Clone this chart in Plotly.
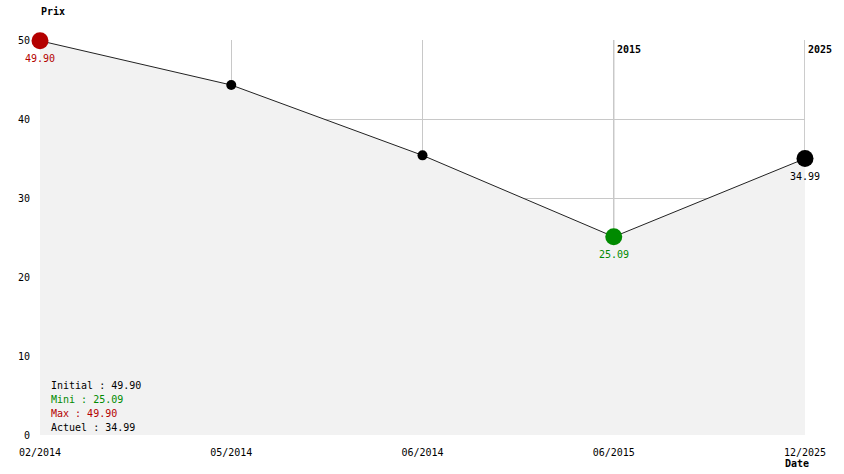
import plotly.graph_objects as go

dates = ["02/2014", "05/2014", "06/2014", "06/2015", "12/2025"]
prices = [49.90, 44.3, 35.4, 25.09, 34.99]
marker_sizes = [17, 10, 10, 17, 17]
marker_colors = ["#b40000", "#000000", "#000000", "#008a00", "#000000"]
year_marks = [("2015", 3), ("2025", 4)]
y_ticks = [0, 10, 20, 30, 40, 50]
summary = [("Initial : 49.90", "#000000"), ("Mini : 25.09", "#008a00"),
           ("Max : 49.90", "#b40000"), ("Actuel : 34.99", "#000000")]
point_labels = [(0, "49.90", "#b40000"), (3, "25.09", "#008a00"), (4, "34.99", "#000000")]

FONT = "DejaVu Sans Mono"
FS = 10
xs = list(range(len(dates)))

fig = go.Figure()
fig.add_trace(go.Scatter(
    x=xs, y=prices, mode="lines+markers",
    line=dict(color="#222222", width=1),
    fill="tozeroy", fillcolor="#f2f2f2",
    marker=dict(size=marker_sizes, color=marker_colors, opacity=1, line=dict(width=0)),
    cliponaxis=False,
    hoverinfo="skip", showlegend=False,
))

annotations = []
for i, txt, col in point_labels:
    annotations.append(dict(x=xs[i], y=prices[i], text=txt, showarrow=False,
                            yshift=-18, font=dict(family=FONT, size=FS, color=col)))

shapes = []
for lbl, i in year_marks:
    shapes.append(dict(type="line", x0=i, x1=i, y0=0, y1=50, xref="x", yref="y",
                       line=dict(color="#999999", width=1), layer="below"))
    annotations.append(dict(x=i, y=50, text="<b>" + lbl + "</b>", showarrow=False,
                            xanchor="left", yanchor="top", xshift=1, yshift=-2,
                            font=dict(family=FONT, size=FS, color="#000000")))

for k, (txt, col) in enumerate(summary):
    annotations.append(dict(x=0, y=0, xref="x", yref="y", text=txt, showarrow=False,
                            xanchor="left", yanchor="bottom", xshift=9,
                            yshift=0 + (3 - k) * 14,
                            font=dict(family=FONT, size=FS, color=col)))

annotations.append(dict(x=0, y=1, xref="paper", yref="paper", text="<b>Prix</b>",
                        showarrow=False, xanchor="center", yanchor="bottom", yshift=21, xshift=13,
                        font=dict(family=FONT, size=FS, color="#000000")))
annotations.append(dict(x=1, y=0, xref="paper", yref="paper", text="<b>Date</b>",
                        showarrow=False, xanchor="center", yanchor="top", yshift=-21, xshift=-8,
                        font=dict(family=FONT, size=FS, color="#000000")))

fig.update_layout(
    width=844, height=474,
    margin=dict(l=40, r=39, t=40, b=39),
    paper_bgcolor="white", plot_bgcolor="white",
    font=dict(family=FONT, size=FS, color="#000000"),
    xaxis=dict(range=[0, 4], tickvals=xs, ticktext=dates, showgrid=True,
               gridcolor="#c8c8c8", gridwidth=1, zeroline=False, showline=False,
               ticks="", ticklabelstandoff=10, tickfont=dict(family=FONT, size=FS)),
    yaxis=dict(range=[0, 50], tickvals=y_ticks, showgrid=True, gridcolor="#c8c8c8",
               gridwidth=1, zeroline=False, showline=False, ticks="",
               ticklabelstandoff=9, tickfont=dict(family=FONT, size=FS)),
    annotations=annotations, shapes=shapes,
)
fig.write_html("out.html", config={"displayModeBar": False},
               post_script="document.body.style.margin='0';")
